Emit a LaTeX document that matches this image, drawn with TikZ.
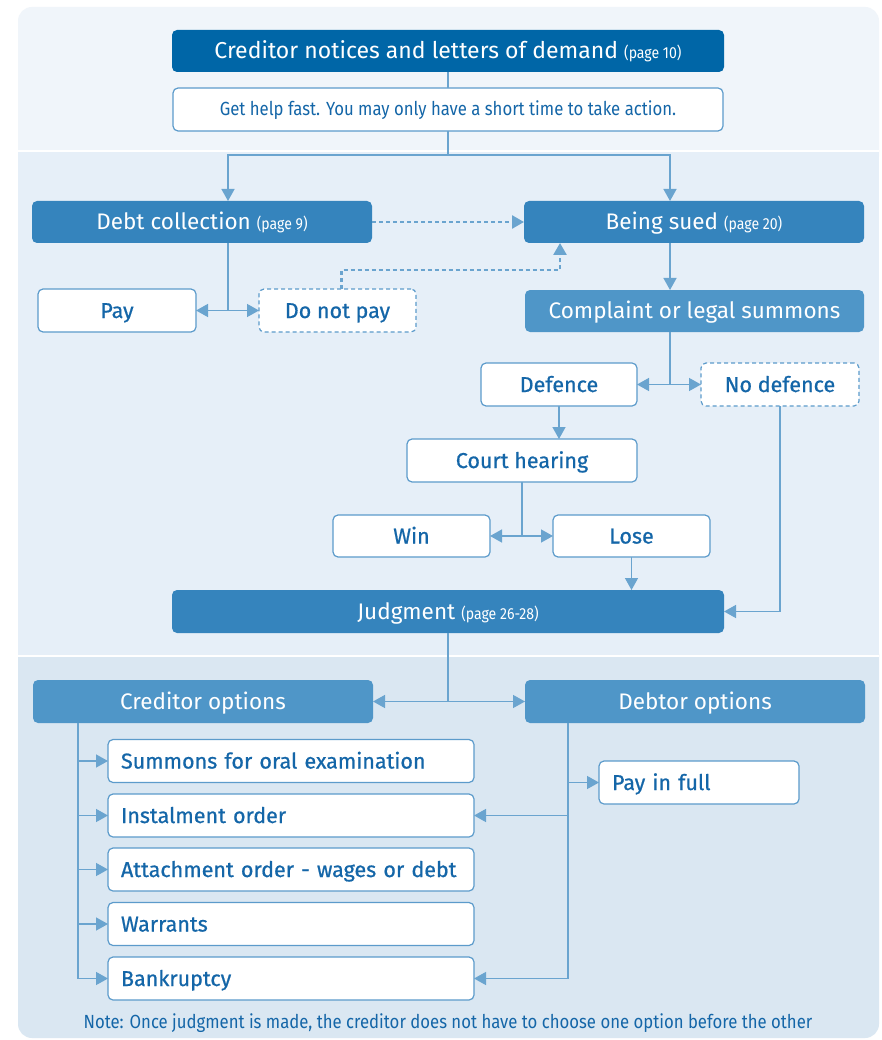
\documentclass[tikz,border=0pt]{standalone}
\usepackage{fontspec}
\setmainfont{Fira Sans}
\newfontfamily\lab[FakeBold=0.7]{Fira Sans}
\newfontfamily\cond[FakeStretch=0.88]{Fira Sans}
\usetikzlibrary{arrows.meta,calc}
\definecolor{cdark}{HTML}{0066A7}
\definecolor{cmid}{HTML}{3584BD}
\definecolor{clight}{HTML}{4F96C8}
\definecolor{cedge}{HTML}{5C9BCB}
\definecolor{cwire}{HTML}{6AA4CF}
\definecolor{ctxt}{HTML}{1466A8}
\definecolor{ptop}{HTML}{F0F5FA}
\definecolor{pmid}{HTML}{E6EFF8}
\definecolor{pbot}{HTML}{DAE7F2}
\newcommand{\pg}[1]{{\cond\fontsize{16}{18}\selectfont #1}}
\begin{document}
\begin{tikzpicture}[x=1pt,y=-1pt,
  every node/.style={inner sep=0pt, outer sep=0pt},
  base/.style={rounded corners=5pt, minimum height=43pt, align=center, text height=15pt, text depth=0pt, font=\lab\fontsize{21.5}{25}\selectfont},
  fdark/.style={base, fill=cdark, text=white, font=\fontsize{23}{27}\selectfont},
  fmid/.style={base, fill=cmid, text=white, font=\fontsize{22.5}{26}\selectfont},
  flight/.style={base, fill=clight, text=white, font=\fontsize{22.5}{26}\selectfont},
  wbox/.style={base, fill=white, draw=cedge, line width=1.2pt, text=ctxt},
  dbox/.style={wbox, dash pattern=on 4pt off 3pt},
  optbox/.style={wbox, align=left, inner xsep=13pt},
  wire/.style={draw=cwire, line width=1.4pt},
  arr/.style={wire, -{Triangle[length=12pt,width=13pt]}},
  dots/.style={arr, line width=2.5pt, dash pattern=on 4pt off 3pt}
]
\useasboundingbox (0,0) rectangle (881,1040);
% panels
\fill[white] (0,0) rectangle (881,1040);
\fill[ptop, rounded corners=14pt] (18,7) rectangle (879,170);
\fill[pbot, rounded corners=14pt] (18,640) rectangle (879,1038);
\fill[white] (18,150) rectangle (879,657);
\fill[pmid] (18,152) rectangle (879,655);

% nodes
\node[fdark, minimum width=552pt, minimum height=42pt] (top) at (448,51) {Creditor notices and letters of demand \pg{(page 10)}};
\node[wbox, minimum width=550pt, text height=13pt, font=\cond\fontsize{19}{22}\selectfont] (help) at (448,109.5) {Get help fast. You may only have a short time to take action.};
\node[fmid, minimum width=340pt, minimum height=42pt] (debt) at (202,222) {Debt collection \pg{(page 9)}};
\node[fmid, minimum width=340pt, minimum height=42pt] (sued) at (694,222) {Being sued \pg{(page 20)}};
\node[wbox, minimum width=158pt] (pay) at (117,310.5) {Pay};
\node[dbox, minimum width=157pt] (dnp) at (337.5,310.5) {Do not pay};
\node[flight, minimum width=339pt, minimum height=42pt] (complaint) at (694.5,311) {Complaint or legal summons};
\node[wbox, minimum width=156pt] (defence) at (559,384.5) {Defence};
\node[dbox, minimum width=158pt] (nodef) at (780,384.5) {No defence};
\node[wbox, minimum width=230pt] (court) at (522,460.5) {Court hearing};
\node[wbox, minimum width=157pt, minimum height=42pt] (win) at (411.5,536) {Win};
\node[wbox, minimum width=157pt, minimum height=42pt] (lose) at (631.5,536) {Lose};
\node[fmid, minimum width=552pt] (judg) at (448,611.5) {Judgment \pg{(page 26-28)}};
\node[flight, minimum width=340pt] (credopt) at (203,701.5) {Creditor options};
\node[flight, minimum width=340pt] (debtopt) at (695,701.5) {Debtor options};
\node[optbox, text width=340pt] (o1) at (291,761) {Summons for oral examination};
\node[optbox, text width=340pt] (o2) at (291,815.5) {Instalment order};
\node[optbox, text width=340pt] (o3) at (291,869.5) {Attachment order - wages or debt};
\node[optbox, text width=340pt] (o4) at (291,924) {Warrants};
\node[optbox, text width=340pt] (o5) at (291,978.5) {Bankruptcy};
\node[optbox, text width=174pt] (payfull) at (699,782.5) {Pay in full};
\node[text=ctxt, font=\cond\fontsize{19}{22}\selectfont] (note) at (448,1023) {Note: Once judgment is made, the creditor does not have to choose one option before the other};

% connectors
\draw[wire] (top.south) -- (help.north);
\coordinate (j1) at ($(help.south)+(0,24)$);
\draw[wire] (help.south) -- (j1);
\draw[arr] (j1) -| ($(debt.north)+(26,0)$);
\draw[arr] (j1) -| ($(sued.north)+(-24,0)$);
\draw[dots] (debt.east) -- (sued.west);

\coordinate (d1) at ($(debt.south)+(26,0)$);
\coordinate (j2) at (d1 |- pay.east);
\draw[wire] (d1) -- (j2);
\draw[arr] (j2) -- (pay.east);
\draw[arr] (j2) -- (dnp.west);
\draw[dots] ($(dnp.north)+(4,0)$) -- ++(0,-19) -| ($(sued.south)+(-134,0)$);

\coordinate (s1) at ($(sued.south)+(-24,0)$);
\draw[arr] (s1) -- (s1 |- complaint.north);
\coordinate (c1) at ($(complaint.south)+(-24.5,0)$);
\coordinate (j3) at (c1 |- defence.east);
\draw[wire] (c1) -- (j3);
\draw[arr] (j3) -- (defence.east);
\draw[arr] (j3) -- (nodef.west);
\draw[arr] (defence.south) -- (defence.south |- court.north);
\coordinate (j4) at (court.south |- win.east);
\draw[wire] (court.south) -- (j4);
\draw[arr] (j4) -- (win.east);
\draw[arr] (j4) -- (lose.west);
\draw[arr] (lose.south) -- (lose.south |- judg.north);
\draw[arr] (nodef.south) |- (judg.east);

\coordinate (j5) at (judg.south |- credopt.east);
\draw[wire] (judg.south) -- (j5);
\draw[arr] (j5) -- (credopt.east);
\draw[arr] (j5) -- (debtopt.west);

\coordinate (c2) at ($(credopt.south west)+(45,0)$);
\draw[wire] (c2) -- (c2 |- o5.west);
\foreach \o in {o1,o2,o3,o4,o5} \draw[arr] (c2 |- \o.west) -- (\o.west);

\coordinate (c3) at ($(debtopt.south west)+(43,0)$);
\draw[wire] (c3) -- (c3 |- o5.east);
\draw[arr] (c3 |- payfull.west) -- (payfull.west);
\draw[arr] (c3 |- o2.east) -- (o2.east);
\draw[arr] (c3 |- o5.east) -- (o5.east);
\end{tikzpicture}
\end{document}
